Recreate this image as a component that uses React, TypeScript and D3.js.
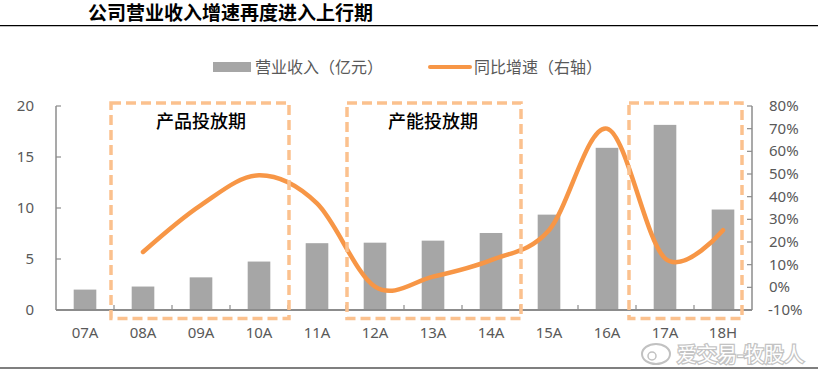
import React from "react";
import * as d3 from "d3";

const categories = ["07A", "08A", "09A", "10A", "11A", "12A", "13A", "14A", "15A", "16A", "17A", "18H"];
const revenue = [2.0, 2.3, 3.2, 4.75, 6.55, 6.6, 6.8, 7.55, 9.35, 15.9, 18.15, 9.85];
const growth: (number | null)[] = [null, 15.6, 36.3, 49.4, 37.0, 0.3, 4.7, 12.0, 25.2, 70.0, 12.8, 25.2];
const leftTicks = [0, 5, 10, 15, 20];
const rightTicks = [-10, 0, 10, 20, 30, 40, 50, 60, 70, 80];
const phases = [
  { label: "产品投放期", from: "08A", to: "10A", labelAt: "09A" },
  { label: "产能投放期", from: "12A", to: "14A", labelAt: "13A" },
  { label: "", from: "17A", to: "18H", labelAt: "" },
];

const W = 826;
const H = 373;
const CJK = "'Noto Sans CJK SC', 'Noto Sans', sans-serif";
const LAT = "'Noto Sans', 'Open Sans', sans-serif";

export default function App() {
  const left = 56;
  const right = 752;
  const top = 106;
  const bottom = 310;

  const x = d3.scaleBand<string>().domain(categories).range([left, right]).paddingInner(0).paddingOuter(0);
  const bw = x.bandwidth();
  const barW = bw * 0.39;
  const yL = d3.scaleLinear().domain([0, 20]).range([bottom, top]);
  const yR = d3.scaleLinear().domain([-10, 80]).range([bottom, top]);

  const pts = categories
    .map((c, i) => ({ c, v: growth[i] }))
    .filter((p) => p.v !== null) as { c: string; v: number }[];
  const line = d3
    .line<{ c: string; v: number }>()
    .x((d) => (x(d.c) as number) + bw / 2)
    .y((d) => yR(d.v))
    .curve(d3.curveCardinal.tension(0));

  const axisColor = "#8c8c8c";
  const textColor = "#595959";
  const boxColor = "#fbc18e";

  const boxAdj = [
    { l: -3, r: 1 },
    { l: 1, r: 1 },
    { l: -7, r: -10 },
  ];

  return (
    <svg width={W} height={H} style={{ position: "absolute", left: 0, top: 0, background: "#fff" }}>
      {/* title */}
      <text x={88} y={20} fontFamily={CJK} fontSize={19} fontWeight={700} fill="#000">
        公司营业收入增速再度进入上行期
      </text>
      <line x1={0} x2={818} y1={25.7} y2={25.7} stroke="#000" strokeWidth={1.2} />
      <line x1={0} x2={818} y1={368} y2={368} stroke="#000" strokeWidth={1.2} />

      {/* legend */}
      <rect x={213} y={62} width={38} height={10} fill="#a6a6a6" />
      <text x={255} y={73} fontFamily={CJK} fontSize={16} fill={textColor}>
        营业收入（亿元）
      </text>
      <line x1={430} x2={470} y1={67} y2={67} stroke="#f79646" strokeWidth={4} strokeLinecap="round" />
      <text x={474} y={73} fontFamily={CJK} fontSize={16} fill={textColor}>
        同比增速（右轴）
      </text>

      {/* bars */}
      {categories.map((c, i) => (
        <rect
          key={c}
          x={(x(c) as number) + (bw - barW) / 2}
          y={yL(revenue[i])}
          width={barW}
          height={bottom - yL(revenue[i])}
          fill="#a6a6a6"
        />
      ))}

      {/* axes */}
      <line x1={left} x2={left} y1={top} y2={bottom} stroke={axisColor} strokeWidth={1.5} />
      <line x1={right} x2={right} y1={top} y2={bottom} stroke={axisColor} strokeWidth={1.5} />
      <line x1={left} x2={right} y1={bottom} y2={bottom} stroke={axisColor} strokeWidth={2} />
      {leftTicks.map((t) => (
        <g key={"l" + t}>
          <line x1={left} x2={left + 5} y1={yL(t)} y2={yL(t)} stroke={axisColor} strokeWidth={1.2} />
          <text x={34} y={yL(t) + 5} textAnchor="end" fontFamily={LAT} fontSize={15} fill={textColor}>
            {t}
          </text>
        </g>
      ))}
      {rightTicks.map((t) => (
        <g key={"r" + t}>
          <line x1={right - 5} x2={right} y1={yR(t)} y2={yR(t)} stroke={axisColor} strokeWidth={1.2} />
          <text x={t < 0 ? 768 : 769} y={yR(t) + 5} textAnchor="start" fontFamily={LAT} fontSize={15} fill={textColor}>
            {t}%
          </text>
        </g>
      ))}
      {categories.slice(1).map((c) => (
        <line key={"t" + c} x1={x(c) as number} x2={x(c) as number} y1={bottom - 5} y2={bottom} stroke={axisColor} strokeWidth={1.2} />
      ))}
      {categories.map((c) => (
        <text key={"x" + c} x={(x(c) as number) + bw / 2} y={338} textAnchor="middle" fontFamily={LAT} fontSize={15} fill={textColor}>
          {c}
        </text>
      ))}

      {/* growth line */}
      <path d={line(pts) || ""} fill="none" stroke="#f79646" strokeWidth={4.5} strokeLinecap="round" />

      {/* phase boxes */}
      {phases.map((p, i) => {
        const x0 = (x(p.from) as number) + boxAdj[i].l;
        const x1 = (x(p.to) as number) + bw + boxAdj[i].r;
        return (
          <g key={"p" + i}>
            <rect
              x={x0}
              y={103}
              width={x1 - x0}
              height={215.5}
              fill="none"
              stroke={boxColor}
              strokeWidth={3.5}
              strokeDasharray="10,5"
            />
            {p.label && (
              <text
                x={(x(p.labelAt) as number) + bw / 2}
                y={128}
                textAnchor="middle"
                fontFamily={CJK}
                fontSize={18}
                fontWeight={500}
                fill="#000"
              >
                {p.label}
              </text>
            )}
          </g>
        );
      })}

      {/* watermark */}
      <g opacity={0.9}>
        <ellipse cx={656} cy={354} rx={14} ry={10} fill="none" stroke="#bbb" strokeWidth={2} />
        <circle cx={652} cy={356} r={4} fill="none" stroke="#bbb" strokeWidth={1.5} />
        <text x={677} y={362} fontFamily={CJK} fontSize={20} fill="#fff" stroke="#bdbdbd" strokeWidth={2.5} paintOrder="stroke">
          爱交易-牧股人
        </text>
      </g>
    </svg>
  );
}
